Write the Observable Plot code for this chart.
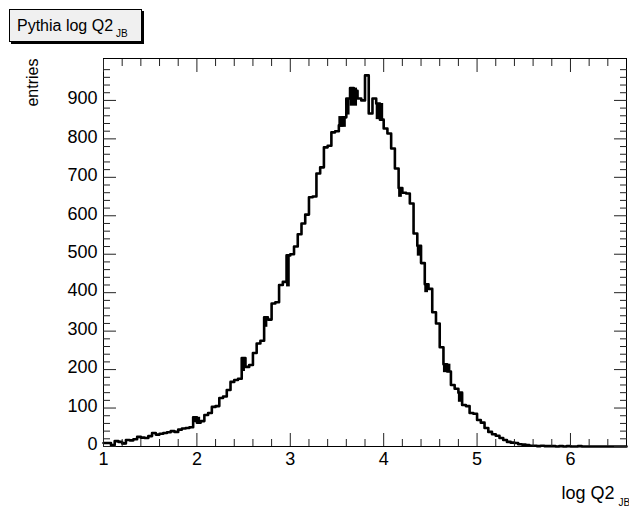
<!DOCTYPE html>
<html>
<head>
<meta charset="utf-8">
<script src="https://cdn.jsdelivr.net/npm/d3@7"></script>
<script src="https://cdn.jsdelivr.net/npm/@observablehq/plot@0.6"></script>
<style>
  html, body { margin: 0; padding: 0; background: #fff; }
  #wrap { position: relative; width: 629px; height: 508px; overflow: hidden; font-family: "Liberation Sans", Arial, sans-serif; }
  #wrap svg { position: absolute; left: 0; top: 0; }
  #title { position: absolute; left: 9px; top: 9px; width: 124px; height: 31px; padding-left: 7px;
           background: #f0f0f0; border: 1px solid #000; box-shadow: 2px 2px 0 #000;
           font-size: 16px; line-height: 32px; color: #000; white-space: nowrap; }
  #title .sub { font-size: 10px; position: relative; top: 6px; margin-left: 3px; }
</style>
</head>
<body>
<div id="wrap">
  <div id="title">Pythia log Q2<span class="sub">JB</span></div>
</div>
<script>
// ---- data ----
const binStart = 1.0;
const binWidth = 0.04;
const counts = [
  9, 9, 4, 14, 12, 8, 17, 16, 19, 25,
  23, 22, 27, 35, 31, 33, 35, 37, 40, 38,
  44, 47, 48, 50, 76, 62, 66, 82, 87, 103,
  105, 126, 130, 147, 168, 173, 176, 230, 207, 212,
  243, 268, 275, 336, 330, 372, 375, 420, 428, 497,
  500, 520, 552, 580, 603, 648, 650, 710, 726, 778,
  782, 817, 820, 835, 856, 905, 932, 925, 905, 900,
  965, 866, 905, 892, 850, 827, 814, 775, 723, 672,
  660, 658, 632, 554, 522, 477, 422, 410, 349, 320,
  258, 214, 195, 160, 150, 140, 108, 105, 87, 85,
  69, 62, 48, 38, 32, 28, 22, 17, 12, 10,
  9, 6, 5, 4, 2, 2, 1, 2, 1, 1,
  1, 0, 1, 0, 1, 0, 0, 1, 0, 0,
  0, 0, 0, 0, 0, 0, 0, 0, 0, 0
];
// places where the (overlaid) histogram shows a filled band
const blockX1 = [1.20, 1.96, 2.48, 2.72, 2.96, 3.52, 3.60, 3.64, 3.92, 4.16, 4.36, 4.44, 4.64, 4.80];
const blockX2 = [1.24, 2.04, 2.52, 2.76, 3.00, 3.60, 3.64, 3.72, 4.00, 4.20, 4.40, 4.48, 4.72, 4.84];
const blockLo = [4, 62, 195, 310, 415, 830, 862, 885, 850, 648, 495, 400, 192, 115];
const blockHi = [8, 76, 230, 336, 497, 858, 905, 932, 892, 672, 522, 422, 214, 140];

const xMajor = [1, 2, 3, 4, 5, 6];
const xMinor = d3.range(1.2, 6.6, 0.2).filter(v => Math.abs(v - Math.round(v)) > 1e-6);
const yMajor = [0, 100, 200, 300, 400, 500, 600, 700, 800, 900];
const yMinor = d3.range(20, 1009, 20).filter(v => v % 100 !== 0);

const xTitle = "log Q2";
const xTitleSub = "JB";
const yTitle = "entries";

// ---- build tables ----
const points = counts.map((c, i) => ({x: binStart + i * binWidth, y: c}));
points.push({x: binStart + counts.length * binWidth, y: counts[counts.length - 1]});
const blocks = blockX1.map((x1, i) => ({x1, x2: blockX2[i], lo: blockLo[i], hi: blockHi[i]}));

const tickColor = "#222";
const plot = Plot.plot({
  width: 629,
  height: 508,
  marginLeft: 103,
  marginRight: 3,
  marginTop: 58,
  marginBottom: 62,
  x: {domain: [1, 6.6], label: null},
  y: {domain: [0, 1009], label: null},
  style: {fontFamily: '"Liberation Sans", Arial, sans-serif', fontSize: "18px", color: "#000", background: "transparent", overflow: "visible"},
  marks: [
    Plot.rect(blocks, {x1: "x1", x2: "x2", y1: "lo", y2: "hi", fill: "#000"}),
    Plot.line(points, {x: "x", y: "y", curve: "step-after", stroke: "#000", strokeWidth: 2.6}),
    Plot.frame({stroke: "#000"}),
    Plot.axisX({ticks: xMajor, anchor: "bottom", tickSize: -13, fill: "none", stroke: tickColor, label: null}),
    Plot.axisX({ticks: xMinor, anchor: "bottom", tickSize: -7, fill: "none", stroke: tickColor, label: null}),
    Plot.axisX({ticks: xMajor, anchor: "top", tickSize: -13, fill: "none", stroke: tickColor, label: null}),
    Plot.axisX({ticks: xMinor, anchor: "top", tickSize: -7, fill: "none", stroke: tickColor, label: null}),
    Plot.axisX({ticks: xMajor, anchor: "bottom", tickSize: 0, tickPadding: 6, fontSize: 18, tickFormat: d => String(d), label: null}),
    Plot.axisY({ticks: yMajor, anchor: "left", tickSize: -13, fill: "none", stroke: tickColor, label: null}),
    Plot.axisY({ticks: yMinor, anchor: "left", tickSize: -7, fill: "none", stroke: tickColor, label: null}),
    Plot.axisY({ticks: yMajor, anchor: "right", tickSize: -13, fill: "none", stroke: tickColor, label: null}),
    Plot.axisY({ticks: yMinor, anchor: "right", tickSize: -7, fill: "none", stroke: tickColor, label: null}),
    Plot.axisY({ticks: yMajor, anchor: "left", tickSize: 0, tickPadding: 6, dy: -2, fontSize: 18, tickFormat: d => String(d), label: null}),
    Plot.text([yTitle], {frameAnchor: "top-left", dx: -71, rotate: -90, textAnchor: "end", lineAnchor: "middle", fontSize: 16}),
    Plot.text([xTitle], {frameAnchor: "bottom-right", dx: -12, dy: 47, textAnchor: "end", lineAnchor: "middle", fontSize: 18}),
    Plot.text([xTitleSub], {frameAnchor: "bottom-right", dx: -8, dy: 56, textAnchor: "start", lineAnchor: "middle", fontSize: 10})
  ]
});
document.getElementById("wrap").prepend(plot);
</script>
</body>
</html>
